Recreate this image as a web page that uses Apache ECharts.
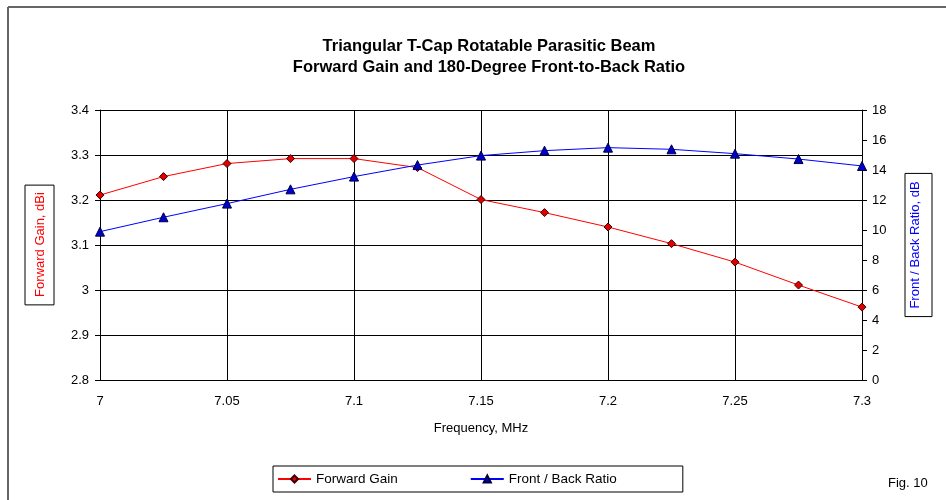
<!DOCTYPE html>
<html lang="en">
<head>
    <meta charset="UTF-8">
    <title>Triangular T-Cap Rotatable Parasitic Beam</title>
    <script src="https://cdn.jsdelivr.net/npm/echarts@6/dist/echarts.min.js"></script>
    <style>
        html, body { margin: 0; padding: 0; background: #fff; }
        #main { width: 946px; height: 500px; }
    </style>
</head>
<body>
<div id="main"></div>
<script>
// frequencies, MHz
var freq = [7.000, 7.025, 7.050, 7.075, 7.100, 7.125, 7.150, 7.175, 7.200, 7.225, 7.250, 7.275, 7.300];
// forward gain, dBi
var gain = [3.211, 3.252, 3.281, 3.292, 3.292, 3.272, 3.201, 3.172, 3.140, 3.103, 3.062, 3.011, 2.962];
// 180-degree front-to-back ratio, dB
var fbRatio = [9.89, 10.85, 11.76, 12.71, 13.56, 14.33, 14.96, 15.29, 15.49, 15.38, 15.09, 14.73, 14.27];

function pairs(xs, ys) {
    return xs.map(function (x, i) { return [x, ys[i]]; });
}

var font = 'Arial, "Liberation Sans", sans-serif';
var labelStyle = { color: '#000', fontSize: 13, fontFamily: font };

var myChart = echarts.init(document.getElementById('main'));

var option = {
    backgroundColor: '#fff',
    animation: false,
    title: {
        text: 'Triangular T-Cap Rotatable Parasitic Beam\nForward Gain and 180-Degree Front-to-Back Ratio',
        left: 484,
        top: 31,
        textAlign: 'center',
        textStyle: { fontSize: 16.5, fontWeight: 'bold', color: '#000', fontFamily: font, lineHeight: 21 }
    },
    legend: {
        left: 273,
        top: 466,
        padding: [6, 66, 6, 4],
        itemGap: 72,
        itemWidth: 33,
        itemHeight: 9,
        borderColor: '#000',
        borderWidth: 1,
        textStyle: { color: '#000', fontSize: 13.5, fontFamily: font },
        data: ['Forward Gain', 'Front / Back Ratio']
    },
    grid: { left: 100, right: 84, top: 110, bottom: 120, outerBoundsMode: 'none' },
    xAxis: {
        type: 'value',
        min: 7,
        max: 7.3,
        interval: 0.05,
        name: 'Frequency, MHz',
        nameLocation: 'middle',
        nameGap: 42,
        nameTextStyle: labelStyle,
        axisLine: { lineStyle: { color: '#000' } },
        axisTick: { show: false },
        axisLabel: Object.assign({ margin: 15 }, labelStyle),
        splitLine: { show: true, lineStyle: { color: '#000', width: 1 } }
    },
    yAxis: [
        {
            type: 'value',
            min: 2.8,
            max: 3.4,
            interval: 0.1,
            name: 'Forward Gain, dBi',
            nameLocation: 'middle',
            nameRotate: 90,
            nameGap: 46,
            nameTextStyle: {
                color: '#ff0000', fontSize: 13, fontFamily: font,
                borderColor: '#000', borderWidth: 1, padding: [9, 7, 7, 8]
            },
            axisLine: { show: true, lineStyle: { color: '#000' } },
            axisTick: { show: true, length: 5, lineStyle: { color: '#000' } },
            axisLabel: Object.assign({ margin: 11 }, labelStyle),
            splitLine: { show: true, lineStyle: { color: '#000', width: 1 } }
        },
        {
            type: 'value',
            min: 0,
            max: 18,
            interval: 2,
            position: 'right',
            name: 'Front / Back Ratio, dB',
            nameLocation: 'middle',
            nameRotate: 90,
            nameGap: 43,
            nameTextStyle: {
                color: '#0000ff', fontSize: 13, fontFamily: font,
                borderColor: '#000', borderWidth: 1, padding: [4, 8, 10, 8]
            },
            axisLine: { show: true, lineStyle: { color: '#000' } },
            axisTick: { show: true, length: 5, lineStyle: { color: '#000' } },
            axisLabel: Object.assign({ margin: 10 }, labelStyle),
            splitLine: { show: false }
        }
    ],
    series: [
        {
            name: 'Forward Gain',
            type: 'line',
            yAxisIndex: 0,
            data: pairs(freq, gain),
            symbol: 'diamond',
            symbolSize: 8,
            lineStyle: { color: '#ff0000', width: 1 },
            itemStyle: { color: '#e00000', borderColor: '#400000', borderWidth: 1 }
        },
        {
            name: 'Front / Back Ratio',
            type: 'line',
            yAxisIndex: 1,
            data: pairs(freq, fbRatio),
            symbol: 'triangle',
            symbolSize: 9,
            lineStyle: { color: '#0000ff', width: 1 },
            itemStyle: { color: '#0000cc', borderColor: '#000040', borderWidth: 1 }
        }
    ],
    graphic: [
        // outer frame, only top and left edges are visible
        { type: 'line', shape: { x1: 8, y1: 7, x2: 946, y2: 7 }, style: { stroke: '#666', lineWidth: 2 } },
        { type: 'line', shape: { x1: 8, y1: 7, x2: 8, y2: 500 }, style: { stroke: '#666', lineWidth: 2 } },
        {
            type: 'text', left: 888, top: 477,
            style: { text: 'Fig. 10', fill: '#000', fontSize: 13, fontFamily: font }
        }
    ]
};

myChart.setOption(option);
</script>
</body>
</html>
